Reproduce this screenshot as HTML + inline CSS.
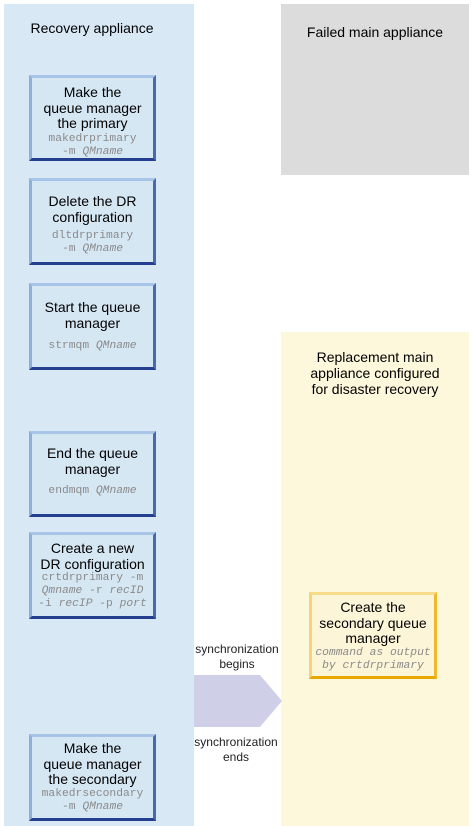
<!DOCTYPE html>
<html><head><style>
body{margin:0;width:476px;height:826px;position:relative;background:#fff;overflow:hidden;font-family:"Liberation Sans",sans-serif}
.a{position:absolute}
.box{position:absolute;box-sizing:border-box;left:29px;width:127px;background:#d6e7f4;border-top:3px solid #a8c4e6;border-left:3px solid #8eaedc;border-right:3px solid #4a6ab0;border-bottom:3px solid #253f8f}
.ybox{position:absolute;box-sizing:border-box;background:#fdf5d8;border-top:3px solid #f8dc8a;border-left:3px solid #f6d27a;border-right:3px solid #f0b830;border-bottom:3px solid #e8a800}
.t{position:absolute;left:-5px;right:-5px;text-align:center;font-size:14px;color:#000;line-height:15.5px}
.m{position:absolute;left:-5px;right:-5px;text-align:center;font-family:"Liberation Mono",monospace;font-size:11.3px;color:#8a8a8a;line-height:13px}
i{font-style:italic}
.s{position:absolute;font-size:12px;text-align:center;width:110px;line-height:15px;color:#222}
</style></head><body>
<div class="a" style="left:4px;top:4px;width:190px;height:822px;background:#d8e9f5"></div>
<div class="a" style="left:281px;top:4px;width:188px;height:171px;background:#dcdcdc"></div>
<div class="a" style="left:281px;top:332px;width:188px;height:494px;background:#fdf7dc"></div>
<div class="a" style="left:4px;top:20px;width:176px;text-align:center;font-size:14px">Recovery appliance</div>
<div class="a" style="left:281px;top:24px;width:188px;text-align:center;font-size:14px">Failed main appliance</div>
<div class="a" style="left:281px;top:349px;width:188px;text-align:center;font-size:14px;line-height:16px">Replacement main<br>appliance configured<br>for disaster recovery</div>

<div class="box" style="top:75px;height:86px"><div class="t" style="top:7px">Make the<br>queue manager<br>the primary</div><div class="m" style="top:55px">makedrprimary<br>-m <i>QMname</i></div></div>
<div class="box" style="top:178px;height:87px"><div class="t" style="top:13px">Delete the DR<br>configuration</div><div class="m" style="top:49px">dltdrprimary<br>-m <i>QMname</i></div></div>
<div class="box" style="top:283px;height:87px"><div class="t" style="top:14px">Start the queue<br>manager</div><div class="m" style="top:54px">strmqm <i>QMname</i></div></div>
<div class="box" style="top:431px;height:86px"><div class="t" style="top:12px">End the queue<br>manager</div><div class="m" style="top:51px">endmqm <i>QMname</i></div></div>
<div class="box" style="top:532px;height:87px"><div class="t" style="top:6px">Create a new<br>DR configuration</div><div class="m" style="top:37px">crtdrprimary -m<br><i>Qmname</i> -r <i>recID</i><br>-i <i>recIP</i> -p <i>port</i></div></div>
<div class="box" style="top:734px;height:87px"><div class="t" style="top:4px">Make the<br>queue manager<br>the secondary</div><div class="m" style="top:51px">makedrsecondary<br>-m <i>QMname</i></div></div>

<div class="ybox" style="left:309px;top:592px;width:128px;height:87px"><div class="t" style="top:5px">Create the<br>secondary queue<br>manager</div><div class="m" style="top:52px"><i>command as output<br>by crtdrprimary</i></div></div>

<svg class="a" style="left:0;top:0" width="476" height="826"><polygon points="194,675 260,675 282,701 260,727 194,727" fill="#d0cfe8"/></svg>
<div class="s" style="left:182px;top:642px">synchronization<br>begins</div>
<div class="s" style="left:181px;top:735px">synchronization<br>ends</div>
</body></html>
